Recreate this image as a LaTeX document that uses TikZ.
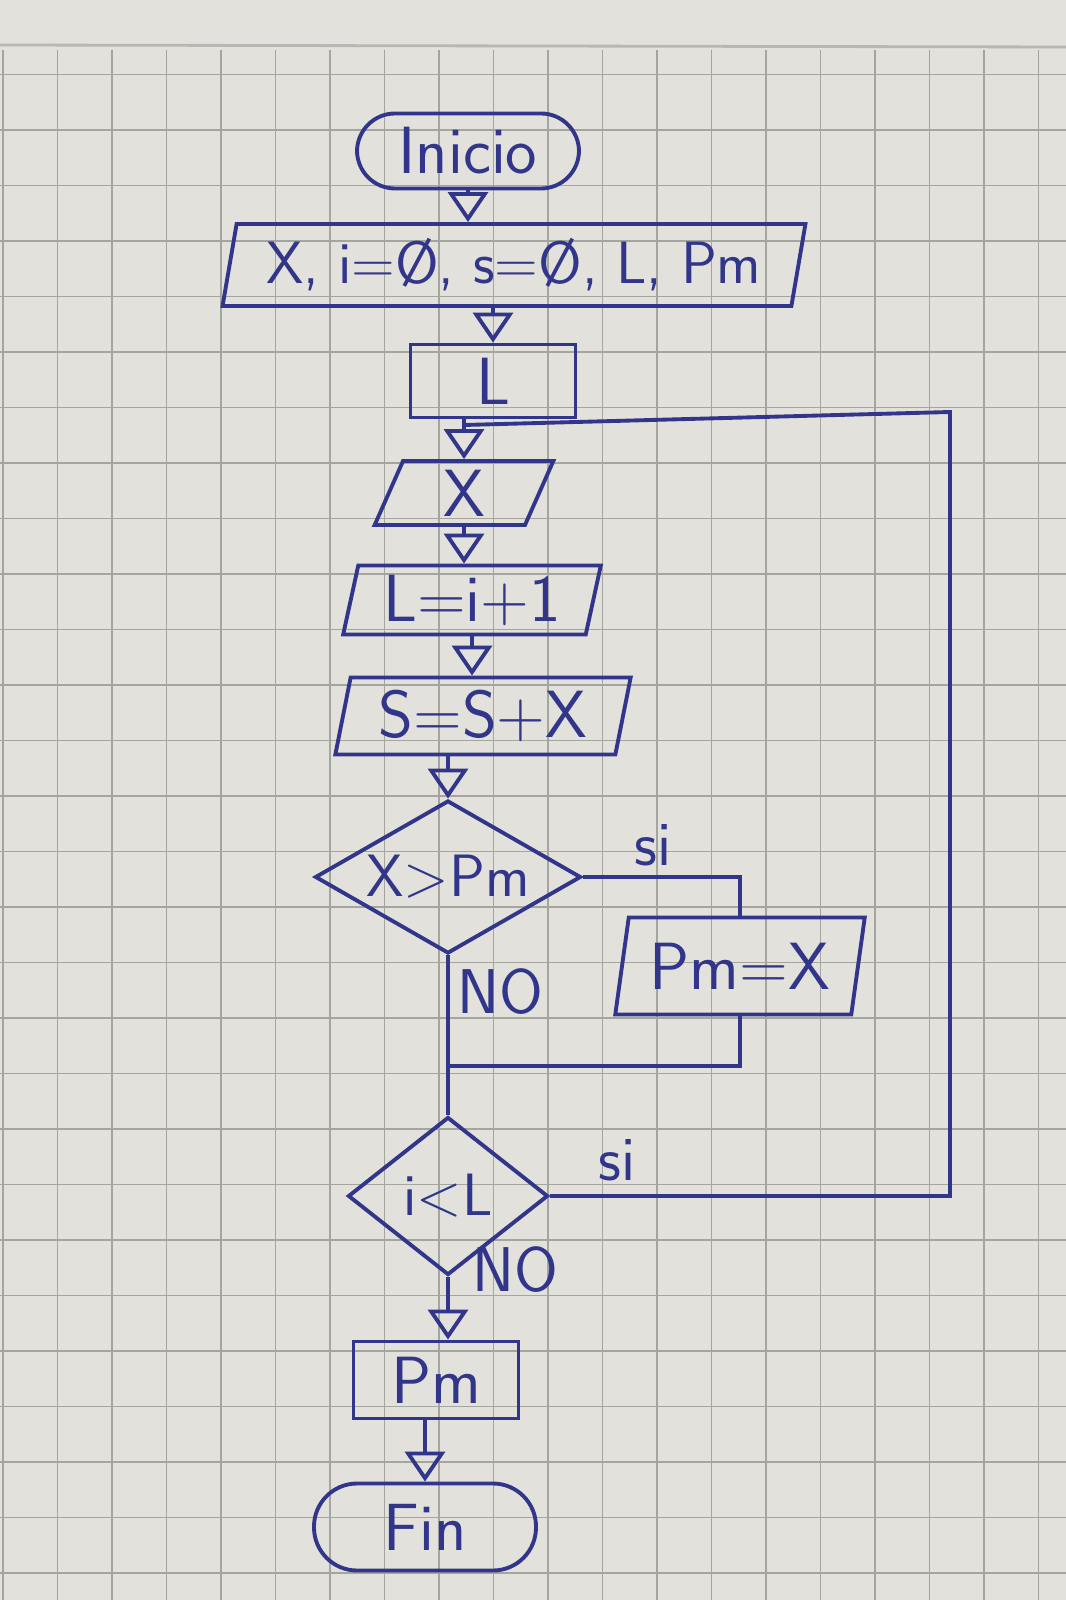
\documentclass[tikz,border=0pt]{standalone}
\usepackage{xcolor}
\usetikzlibrary{shapes.geometric, arrows.meta}
\definecolor{ink}{RGB}{50,54,138}
\definecolor{paper}{RGB}{226,225,219}
\definecolor{gridgray}{RGB}{165,165,160}

\tikzset{
  base/.style={draw=ink, line width=1.1pt, text=ink, font=\sffamily\fontsize{19}{22}\selectfont, inner sep=1pt},
  term/.style={base, rounded corners=0.38cm, minimum width=2.22cm},
  iobox/.style={base, trapezium, trapezium left angle=78, trapezium right angle=102, trapezium stretches=true},
  procbox/.style={base, rectangle},
  decision/.style={base, diamond, inner sep=0pt, font=\sffamily\fontsize{17}{20}\selectfont},
  link/.style={ink, line width=1.1pt},
  flow/.style={link, -{Triangle[open, length=3mm, width=4mm, line width=1.1pt]}},
  lbl/.style={text=ink, font=\sffamily\fontsize{18}{22}\selectfont},
  gridline/.style={gridgray, line width=0.5pt}
}

\begin{document}
\begin{tikzpicture}
    \useasboundingbox (0,0) rectangle (10.66,-16);

    % Papier mit Karomuster
    \fill[paper] (0,0) rectangle (10.66,-16);
    \draw[gridgray!80, line width=0.8pt] (0,-0.45) -- (10.66,-0.47);
    \foreach \gx in {0.03,0.575,...,10.66}
        \draw[gridline] (\gx,-0.5) -- (\gx,-16);
    \foreach \gy in {0.745,1.3,...,16}
        \draw[gridline] (0,-\gy) -- (10.66,-\gy);

    % ==========================================
    % Knoten
    % ==========================================
    \node[term, minimum height=0.75cm] (inicio) at (4.68,-1.51) {Inicio};
    \node[iobox, minimum width=5.84cm, minimum height=0.82cm, font=\sffamily\fontsize{17}{20}\selectfont] (datos) at (5.14,-2.65) {X, i=Ø, s=Ø, L, Pm};
    \node[procbox, minimum width=1.65cm, minimum height=0.73cm] (leer) at (4.93,-3.81) {L};
    \node[iobox, minimum width=1.79cm, minimum height=0.64cm] (xin) at (4.64,-4.93) {X};
    \node[iobox, minimum width=2.59cm, minimum height=0.69cm] (cont) at (4.72,-6.0) {L=i+1};
    \node[iobox, minimum width=2.97cm, minimum height=0.77cm] (suma) at (4.83,-7.16) {S=S+X};
    \node[decision, aspect=1.75, minimum width=2.66cm, minimum height=1.53cm] (mayor) at (4.48,-8.77) {X>Pm};
    \node[iobox, minimum width=2.5cm, minimum height=0.97cm] (asig) at (7.40,-9.66) {Pm=X};
    \node[decision, aspect=1.26, minimum width=2.0cm, minimum height=1.58cm] (menor) at (4.48,-11.96) {i<L};
    \node[procbox, minimum width=1.65cm, minimum height=0.77cm] (salida) at (4.36,-13.8) {Pm};
    \node[term, minimum height=0.87cm, rounded corners=0.43cm] (fin) at (4.25,-15.27) {Fin};

    % Beschriftungen der Zweige
    \node[lbl] (si1) at (6.53,-8.45) {si};
    \node[lbl] (no1) at (5.0,-9.92) {NO};
    \node[lbl] (si2) at (6.17,-11.6) {si};
    \node[lbl] (no2) at (5.15,-12.7) {NO};

    % Hilfspunkte
    \coordinate (merge) at (4.48,-10.66);
    \coordinate (loopR) at (9.5,-4.12);
    \coordinate (join) at (4.64,-4.25);

    % ==========================================
    % Verbindungen
    % ==========================================
    \draw[flow] (inicio.south) -- (inicio.south |- datos.north);
    \draw[flow] (leer.north |- datos.south) -- (leer.north);
    \draw[flow] (xin.north |- leer.south) -- (xin.north);
    \draw[flow] (xin.south) -- (xin.south |- cont.north);
    \draw[flow] (cont.south) -- (cont.south |- suma.north);
    \draw[flow] (mayor.north |- suma.south) -- (mayor.north);

    % Zweig si / NO
    \draw[link] (mayor.east) -| (asig.north);
    \draw[link] (asig.south) |- (merge);
    \draw[link] (mayor.south) -- (menor.north);

    % Schleife zurueck
    \draw[link] (menor.east) -| (loopR) -- (join);

    \draw[flow] (menor.south) -- (menor.south |- salida.north);
    \draw[flow] (fin.north |- salida.south) -- (fin.north);
\end{tikzpicture}
\end{document}
